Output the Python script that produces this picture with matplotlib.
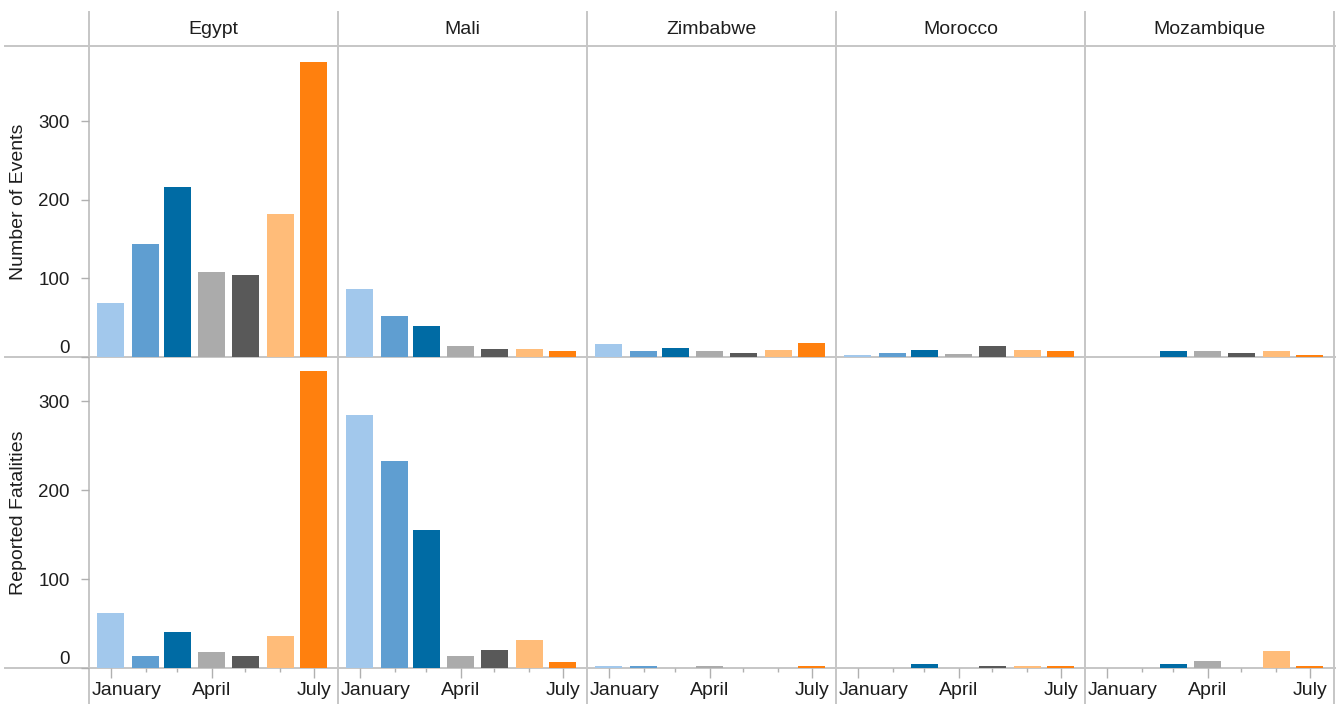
import numpy as np
import pandas as pd
import matplotlib
matplotlib.use('Agg')
import matplotlib.pyplot as plt
from matplotlib.lines import Line2D
from matplotlib.transforms import offset_copy

plt.rcParams['font.family'] = ['Liberation Sans', 'DejaVu Sans']

# dados
countries = ['Egypt', 'Mali', 'Zimbabwe', 'Morocco', 'Mozambique']
months = ['January', 'February', 'March', 'April', 'May', 'June', 'July']
month_colors = ['#a2c8ec', '#5f9ed1', '#006ba4', '#ababab', '#595959', '#ffbc79', '#ff800e']

events_egypt = [69, 144, 216, 108, 104, 182, 375]
events_mali = [86, 52, 39, 14, 10, 10, 7]
events_zimbabwe = [16, 7, 12, 7, 5, 9, 18]
events_morocco = [3, 5, 9, 4, 14, 9, 7]
events_mozambique = [0, 0, 7, 7, 5, 7, 3]

fatal_egypt = [62, 14, 40, 18, 14, 36, 334]
fatal_mali = [284, 233, 155, 14, 20, 32, 7]
fatal_zimbabwe = [2, 2, 0, 2, 0, 0, 2]
fatal_morocco = [0, 0, 4, 0, 2, 2, 2]
fatal_mozambique = [0, 0, 4, 8, 0, 19, 2]

events = [events_egypt, events_mali, events_zimbabwe, events_morocco, events_mozambique]
fatalities = [fatal_egypt, fatal_mali, fatal_zimbabwe, fatal_morocco, fatal_mozambique]
row_titles = ['Number of Events', 'Reported Fatalities']
row_ylim = [395.5, 349.5]
yticks = [0, 100, 200, 300]

# eixo x em dias (datas contínuas, como no Tableau)
dates = pd.date_range('2013-01-01', periods=7, freq='MS')
xpos = np.array(dates.dayofyear - 1)

W, H = 1336, 704
fig = plt.figure(figsize=(W / 100, H / 100), dpi=100)
fig.patch.set_facecolor('white')

line_col = '#c6c6c6'
text_col = '#1e1e1e'
tick_col = '#b0b0b0'
fs = 14

col_left = 89
col_w = 249
row_tops = [46, 357]
row_h = 311

for r, data in enumerate([events, fatalities]):
    for c, country in enumerate(countries):
        left = (col_left + col_w * c) / W
        bottom = 1 - (row_tops[r] + row_h) / H
        ax = fig.add_axes([left, bottom, col_w / W, row_h / H])
        ax.set_zorder(1)
        ax.bar(xpos, data[c], width=24, color=month_colors, linewidth=0)
        ax.set_xlim(-19.5, 202.5)
        ax.set_ylim(0, row_ylim[r])
        for s in ax.spines.values():
            s.set_visible(False)
        ax.set_facecolor('none')

        # eixo y só na primeira coluna
        if c == 0:
            ax.set_yticks(yticks)
            ax.set_yticklabels([str(v) for v in yticks])
            ax.tick_params(axis='y', length=6, width=1, color=tick_col,
                           pad=8, labelsize=13.5, labelcolor=text_col)
            ax.get_yticklabels()[0].set_verticalalignment('bottom')
        else:
            ax.set_yticks([])

        # eixo x (meses)
        if r == 1:
            ax.set_xticks(xpos[[0, 3, 6]])
            ax.set_xticks(xpos, minor=True)
            ax.tick_params(axis='x', which='major', length=7, width=1,
                           color=tick_col, labelbottom=False)
            ax.tick_params(axis='x', which='minor', length=3, width=1,
                           color=tick_col, labelbottom=False)
            trans = offset_copy(ax.get_xaxis_transform(), fig=fig, y=-14, units='dots')
            for k in [3, 6]:
                ax.text(xpos[k], 0, months[k], transform=trans, ha='center',
                        va='top', fontsize=fs, color=text_col)
            trans_l = offset_copy(ax.transAxes, fig=fig, x=3, y=-14, units='dots')
            ax.text(0, 0, months[0], transform=trans_l, ha='left', va='top',
                    fontsize=fs, color=text_col)
        else:
            ax.set_xticks([])

# títulos das colunas
for c, country in enumerate(countries):
    cx = (col_left + col_w * c + col_w / 2) / W
    fig.text(cx, 1 - 29 / H, country, ha='center', va='center',
             fontsize=fs, color=text_col)

# títulos das linhas
for r, title in enumerate(row_titles):
    cy = 1 - (row_tops[r] + row_h / 2) / H
    fig.text(19 / W, cy, title, rotation=90, ha='center', va='center',
             fontsize=fs, color=text_col)

# linhas de grade do painel (atrás das barras)
for y in [46, 357, 668]:
    fig.add_artist(Line2D([5 / W, 1], [1 - y / H, 1 - y / H], color=line_col,
                          linewidth=1.4, transform=fig.transFigure, zorder=0))
for c in range(len(countries) + 1):
    x = (col_left + col_w * c) / W
    fig.add_artist(Line2D([x, x], [0, 1 - 12 / H], color=line_col,
                          linewidth=1.4, transform=fig.transFigure, zorder=0))

fig.savefig('out.png', dpi=100, facecolor='white')
